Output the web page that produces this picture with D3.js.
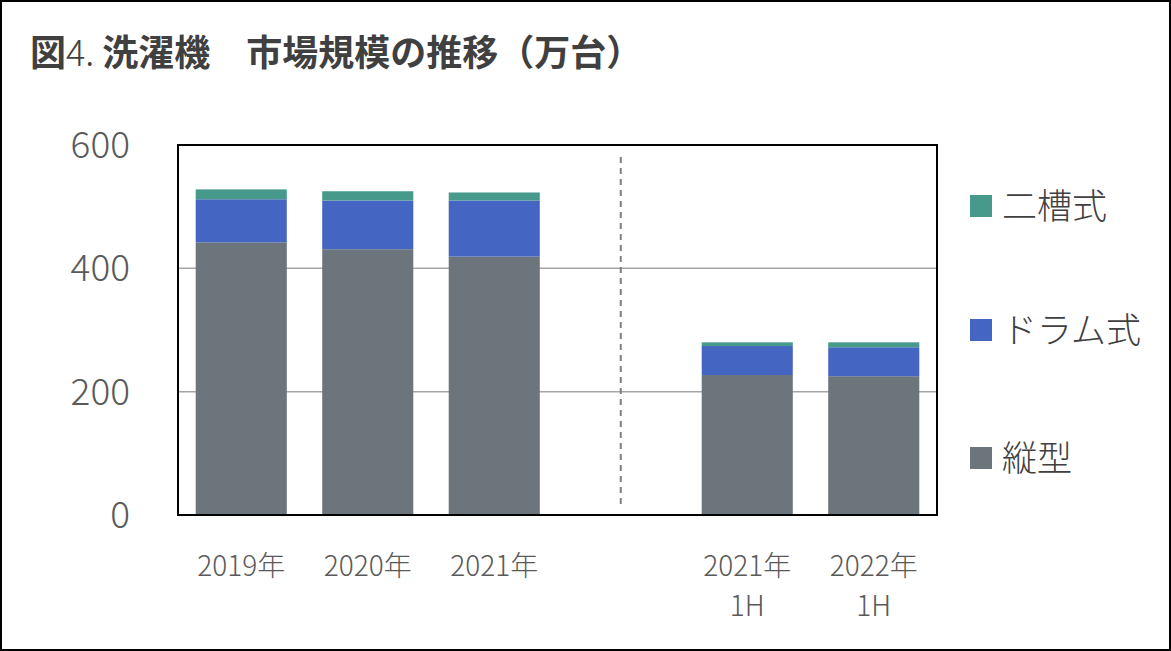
<!DOCTYPE html><html><head><meta charset="utf-8">
<script src="https://cdn.jsdelivr.net/npm/d3@7"></script>
<style>body{margin:0;background:#fff}svg{display:block}</style></head><body>
<script>
const categories=["2019年","2020年","2021年","","2021年\n1H","2022年\n1H"];
const tate=[442,431,419,null,227,225];
const drum=[70,79,91,null,47,47];
const nisou=[16,15,13,null,6,8];
const yTicks=[0,200,400,600];
const seriesNames=["縦型","ドラム式","二槽式"];
const colors=["#6b757b","#4466c2","#46998b"];

const W=1171,H=651;
const svg=d3.select("body").append("svg").attr("width",W).attr("height",H);
const font="'Noto Sans CJK JP','Noto Sans',sans-serif";
svg.append("rect").attr("x",1).attr("y",1).attr("width",W-2).attr("height",H-2).attr("fill","#fff").attr("stroke","#000").attr("stroke-width",2);
const t=svg.append("text").attr("x",30).attr("y",66).attr("font-family",font).attr("font-size",36).attr("font-weight","bold").attr("fill","#404040");
t.append("tspan").text("図");
t.append("tspan").attr("font-weight","300").text("4. ");
t.append("tspan").text("洗濯機　市場規模の推移（万台）");

const L=178,R=937,T=145,B=515;
const x=d3.scaleBand().domain(d3.range(categories.length)).range([L,R]).paddingInner(0.28).paddingOuter(0.14);
const y=d3.scaleLinear().domain([0,600]).range([B,T]);
const g=svg.append("g");
yTicks.forEach(v=>{ if(v>0&&v<600) g.append("line").attr("x1",L).attr("x2",R).attr("y1",y(v)).attr("y2",y(v)).attr("stroke","#a6a6a6").attr("stroke-width",1.5);});
const data=categories.map((c,i)=>({i,v:[tate[i],drum[i],nisou[i]]})).filter(d=>d.v[0]!=null);
data.forEach(d=>{let acc=0;d.v.forEach((v,k)=>{g.append("rect").attr("x",x(d.i)).attr("width",x.bandwidth()).attr("y",y(acc+v)).attr("height",y(acc)-y(acc+v)).attr("fill",colors[k]);acc+=v;});});
const sx=x(3)+x.bandwidth()/2;
g.append("line").attr("x1",sx).attr("x2",sx).attr("y1",157).attr("y2",508).attr("stroke","#7f7f7f").attr("stroke-width",2).attr("stroke-dasharray","6,5");
g.append("rect").attr("x",L).attr("y",T).attr("width",R-L).attr("height",B-T).attr("fill","none").attr("stroke","#000").attr("stroke-width",2);
yTicks.forEach(v=>svg.append("text").attr("x",130).attr("y",y(v)+13).attr("text-anchor","end").attr("font-family",font).attr("font-weight","300").attr("font-size",37).attr("fill","#595959").text(v));
categories.forEach((c,i)=>{ if(!c) return; const tx=svg.append("text").attr("text-anchor","middle").attr("font-family",font).attr("font-weight","300").attr("font-size",28).attr("fill","#595959");
 c.split("\n").forEach((s,k)=>tx.append("tspan").attr("x",x(i)+x.bandwidth()/2).attr("y",576+k*40).text(s));});
const ly=[206,330,458];
[2,1,0].forEach((k,j)=>{svg.append("rect").attr("x",970).attr("y",ly[j]-11).attr("width",22).attr("height",22).attr("fill",colors[k]);
 svg.append("text").attr("x",1002).attr("y",ly[j]+13).attr("font-family",font).attr("font-weight","300").attr("font-size",35).attr("fill","#404040").text(seriesNames[k]);});
</script></body></html>
